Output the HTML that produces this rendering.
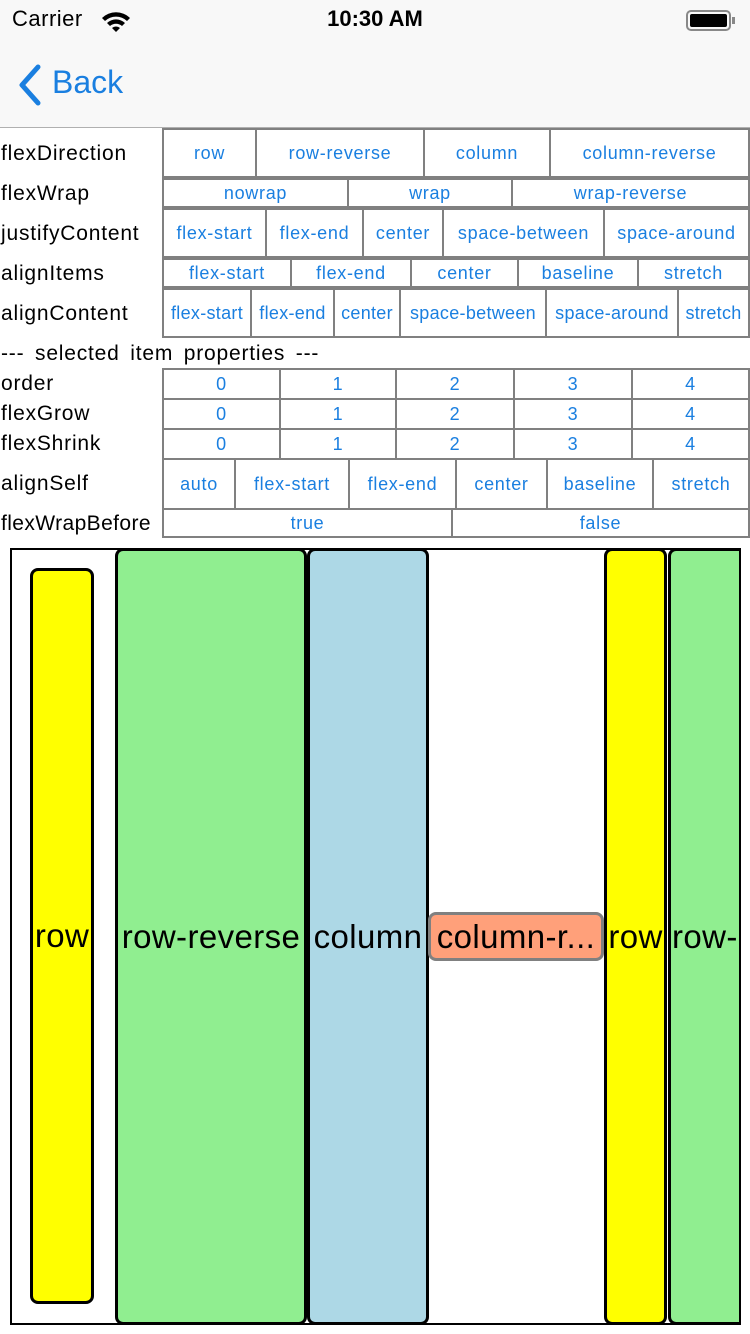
<!DOCTYPE html>
<html><head><meta charset="utf-8"><style>
*{box-sizing:border-box;margin:0;padding:0}
body{width:750px;height:1334px;position:relative;background:#fff;font-family:"Liberation Sans",sans-serif;overflow:hidden}
.a{position:absolute}
.l{position:absolute;left:1px;font-size:21px;letter-spacing:0.8px;word-spacing:2px;color:#000;line-height:30px;white-space:nowrap}
.c{position:absolute;border:2px solid #808080;color:#1a7fe0;font-size:18px;letter-spacing:0.7px;display:flex;align-items:center;justify-content:center;white-space:nowrap;overflow:hidden}
.it{position:absolute;border:3px solid #000;border-radius:8px;display:flex;align-items:center;justify-content:center;font-size:33px;letter-spacing:0.4px;color:#000;white-space:nowrap;overflow:hidden}
</style></head><body>
<div class="a" style="left:0;top:0;width:750px;height:128px;background:#f8f8f8;border-bottom:1px solid #b0b0b0"></div>
<div class="a" style="left:12px;top:6px;font-size:22px;letter-spacing:0.5px">Carrier</div>
<svg class="a" style="left:100px;top:10px" width="32" height="22" viewBox="0 0 32 22"><path d="M2 8 A20 20 0 0 1 30 8 L27 11 A16 16 0 0 0 5 11Z M7 13 A13 13 0 0 1 25 13 L22 16 A9 9 0 0 0 10 16Z M12 18 A6 6 0 0 1 20 18 L16 22Z" fill="#000"/></svg>
<div class="a" style="left:0;width:750px;top:6px;text-align:center;font-size:22px;font-weight:bold">10:30 AM</div>
<div class="a" style="left:686px;top:10px;width:45px;height:21px;border:2px solid #888;border-radius:5px;padding:2px"><div style="background:#000;width:100%;height:100%;border-radius:2px"></div></div>
<div class="a" style="left:732px;top:17px;width:3px;height:7px;background:#888"></div>
<svg class="a" style="left:16px;top:64px" width="28" height="42" viewBox="0 0 28 42"><path d="M22 3 L6 21 L22 39" stroke="#1a7fe0" stroke-width="5" fill="none" stroke-linecap="round" stroke-linejoin="round"/></svg>
<div class="a" style="left:52px;top:64px;font-size:32px;color:#1a7fe0">Back</div>

<div class="l" style="top:139px">flexDirection</div>
<div class="l" style="top:179px">flexWrap</div>
<div class="l" style="top:219px">justifyContent</div>
<div class="l" style="top:259px">alignItems</div>
<div class="l" style="top:299px">alignContent</div>
<div class="l" style="top:339px;word-spacing:4px">--- selected item properties ---</div>
<div class="l" style="top:369px">order</div>
<div class="l" style="top:399px">flexGrow</div>
<div class="l" style="top:429px">flexShrink</div>
<div class="l" style="top:469px">alignSelf</div>
<div class="l" style="top:509px;letter-spacing:0.4px">flexWrapBefore</div>

<div class="c" style="left:162px;top:128px;width:95px;height:50px">row</div>
<div class="c" style="left:255px;top:128px;width:170px;height:50px">row-reverse</div>
<div class="c" style="left:423px;top:128px;width:128px;height:50px">column</div>
<div class="c" style="left:549px;top:128px;width:201px;height:50px">column-reverse</div>

<div class="c" style="left:162px;top:178px;width:187px;height:30px">nowrap</div>
<div class="c" style="left:347px;top:178px;width:166px;height:30px">wrap</div>
<div class="c" style="left:511px;top:178px;width:239px;height:30px">wrap-reverse</div>

<div class="c" style="left:162px;top:208px;width:105px;height:50px">flex-start</div>
<div class="c" style="left:265px;top:208px;width:99px;height:50px">flex-end</div>
<div class="c" style="left:362px;top:208px;width:82px;height:50px">center</div>
<div class="c" style="left:442px;top:208px;width:163px;height:50px">space-between</div>
<div class="c" style="left:603px;top:208px;width:147px;height:50px">space-around</div>

<div class="c" style="left:162px;top:258px;width:130px;height:30px">flex-start</div>
<div class="c" style="left:290px;top:258px;width:122px;height:30px">flex-end</div>
<div class="c" style="left:410px;top:258px;width:109px;height:30px">center</div>
<div class="c" style="left:517px;top:258px;width:122px;height:30px">baseline</div>
<div class="c" style="left:637px;top:258px;width:113px;height:30px">stretch</div>

<div class="c" style="left:162px;top:288px;width:90px;height:50px;letter-spacing:0.3px">flex-start</div>
<div class="c" style="left:250px;top:288px;width:85px;height:50px;letter-spacing:0.3px">flex-end</div>
<div class="c" style="left:333px;top:288px;width:68px;height:50px;letter-spacing:0.3px">center</div>
<div class="c" style="left:399px;top:288px;width:148px;height:50px;letter-spacing:0.3px">space-between</div>
<div class="c" style="left:545px;top:288px;width:134px;height:50px;letter-spacing:0.3px">space-around</div>
<div class="c" style="left:677px;top:288px;width:73px;height:50px;letter-spacing:0.3px">stretch</div>

<div class="c" style="left:162px;top:368px;width:119px;height:32px">0</div>
<div class="c" style="left:279px;top:368px;width:118px;height:32px">1</div>
<div class="c" style="left:395px;top:368px;width:120px;height:32px">2</div>
<div class="c" style="left:513px;top:368px;width:120px;height:32px">3</div>
<div class="c" style="left:631px;top:368px;width:119px;height:32px">4</div>

<div class="c" style="left:162px;top:398px;width:119px;height:32px">0</div>
<div class="c" style="left:279px;top:398px;width:118px;height:32px">1</div>
<div class="c" style="left:395px;top:398px;width:120px;height:32px">2</div>
<div class="c" style="left:513px;top:398px;width:120px;height:32px">3</div>
<div class="c" style="left:631px;top:398px;width:119px;height:32px">4</div>

<div class="c" style="left:162px;top:428px;width:119px;height:32px">0</div>
<div class="c" style="left:279px;top:428px;width:118px;height:32px">1</div>
<div class="c" style="left:395px;top:428px;width:120px;height:32px">2</div>
<div class="c" style="left:513px;top:428px;width:120px;height:32px">3</div>
<div class="c" style="left:631px;top:428px;width:119px;height:32px">4</div>

<div class="c" style="left:162px;top:458px;width:74px;height:52px">auto</div>
<div class="c" style="left:234px;top:458px;width:116px;height:52px">flex-start</div>
<div class="c" style="left:348px;top:458px;width:109px;height:52px">flex-end</div>
<div class="c" style="left:455px;top:458px;width:93px;height:52px">center</div>
<div class="c" style="left:546px;top:458px;width:108px;height:52px">baseline</div>
<div class="c" style="left:652px;top:458px;width:98px;height:52px">stretch</div>

<div class="c" style="left:162px;top:508px;width:291px;height:30px">true</div>
<div class="c" style="left:451px;top:508px;width:299px;height:30px">false</div>

<div class="a" style="left:10px;top:548px;width:731px;height:777px;border:2px solid #000;overflow:hidden">
<div class="it" style="left:18px;top:18px;width:64px;height:736px;background:#ffff00">row</div>
<div class="it" style="left:103px;top:-2px;width:192px;height:777px;background:#90ee90">row-reverse</div>
<div class="it" style="left:295px;top:-2px;width:122px;height:777px;background:#add8e6">column</div>
<div class="it" style="left:416px;top:362px;width:176px;height:49px;background:#ffa07a;border-color:#808080">column-r...</div>
<div class="it" style="left:592px;top:-2px;width:63px;height:777px;background:#ffff00">row</div>
<div class="it" style="left:656px;top:-2px;width:90px;height:777px;background:#90ee90;justify-content:flex-start;padding-left:1px">row-reverse</div>
</div>
</body></html>
